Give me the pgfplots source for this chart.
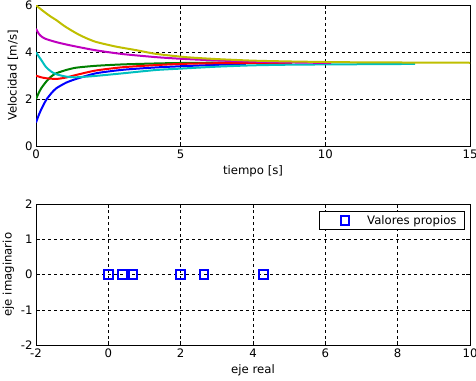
\documentclass[border=0pt]{standalone}
\usepackage{pgfplots}
\pgfplotsset{compat=1.18}
\usepackage{fontspec}
\setmainfont{DejaVu Sans}
\definecolor{mblue}{rgb}{0,0,1}
\definecolor{mgreen}{rgb}{0,0.5,0}
\definecolor{mred}{rgb}{1,0,0}
\definecolor{mcyan}{rgb}{0,0.75,0.75}
\definecolor{mmag}{rgb}{0.75,0,0.75}
\definecolor{myel}{rgb}{0.75,0.75,0}
\pgfplotsset{
  mstyle/.style={
    scale only axis, width=434bp, height=140.7bp, anchor=south west,
    grid=major,
    major grid style={black, dash pattern=on 3bp off 3bp, line width=0.6bp},
    tick align=inside, xtick pos=both, ytick pos=both,
    major tick length=4bp,
    tick style={black, line width=0.6bp},
    axis line style={black, line width=0.6bp},
    /pgf/number format/assume math mode=true,
    tick label style={font=\fontsize{11.7bp}{14bp}\selectfont},
    label style={font=\fontsize{11.7bp}{14bp}\selectfont},
    every axis plot/.append style={line width=2bp},
  },
  mylegimg/.style={legend image code/.code={\draw[##1, only marks] plot coordinates {(20bp,0bp)}; \path[draw=none] (0bp,0bp) -- (40bp,0bp);}},
}
\begin{document}
\begin{tikzpicture}
\path[use as bounding box] (0bp,0bp) rectangle (476bp,381bp);
\begin{axis}[mstyle, at={(36bp,235bp)},
  xmin=0, xmax=15, ymin=0, ymax=6,
  xtick={0,5,10,15}, ytick={0,2,4,6},
  xlabel={tiempo [s]}, ylabel={Velocidad [m/s]}]
\addplot[mblue, smooth, tension=0.4] coordinates {(0,1.0)(0.09,1.3)(0.18,1.56)(0.35,1.96)(0.53,2.25)(0.70,2.46)(1.04,2.70)(1.39,2.86)(2.07,3.10)(3.0,3.25)(4.14,3.35)(5.0,3.40)(6.2,3.46)(7.26,3.50)};
\addplot[mgreen, smooth, tension=0.4] coordinates {(0,2.0)(0.09,2.25)(0.18,2.46)(0.35,2.74)(0.53,2.97)(0.70,3.10)(1.04,3.24)(1.39,3.34)(2.07,3.42)(3.0,3.48)(4.14,3.52)(5.0,3.54)(6.8,3.56)};
\addplot[mred, smooth, tension=0.4] coordinates {(0,3.0)(0.18,2.93)(0.35,2.89)(0.70,2.86)(1.04,2.92)(1.39,3.03)(2.07,3.22)(3.0,3.36)(4.14,3.45)(5.0,3.50)(6.2,3.53)(8.85,3.55)};
\addplot[mcyan, smooth, tension=0.4] coordinates {(0,4.0)(0.09,3.83)(0.18,3.67)(0.35,3.36)(0.53,3.17)(0.70,3.06)(1.04,2.96)(1.39,2.93)(2.07,2.99)(3.0,3.10)(4.14,3.24)(5.0,3.30)(6.2,3.38)(7.5,3.44)(9.0,3.47)(13.1,3.50)};
\addplot[mmag, smooth, tension=0.4] coordinates {(0,5.0)(0.1,4.78)(0.2,4.66)(0.35,4.56)(0.70,4.43)(1.04,4.33)(1.39,4.24)(2.07,4.08)(3.0,3.92)(4.14,3.79)(5.0,3.72)(6.2,3.65)(8.0,3.58)(10.2,3.54)};
\addplot[myel, smooth, tension=0.4] coordinates {(0,6.0)(0.17,5.83)(0.35,5.66)(0.52,5.51)(0.70,5.37)(1.0,5.10)(1.39,4.81)(1.7,4.62)(2.07,4.44)(2.76,4.24)(3.45,4.09)(4.14,3.93)(5.17,3.79)(6.2,3.71)(7.5,3.64)(9.0,3.60)(11.0,3.57)(15.0,3.55)};
\end{axis}
\begin{axis}[mstyle, at={(36bp,36bp)},
  xmin=-2, xmax=10, ymin=-2, ymax=2,
  xtick={-2,0,2,4,6,8,10}, ytick={-2,-1,0,1,2},
  xlabel={eje real}, ylabel={eje imaginario},
  legend style={at={(0.988,0.952)}, anchor=north east, draw=black, line width=0.6bp,
    font=\fontsize{11.7bp}{14bp}\selectfont, inner xsep=6bp, inner ysep=2bp}]
\addplot[only marks, mylegimg, mark=square, mark size=4.2bp, mblue, mark options={line width=2bp, solid}]
  coordinates {(0,0)(0.39,0)(0.69,0)(2,0)(2.64,0)(4.29,0)};
\addlegendentry{Valores propios}
\end{axis}
\end{tikzpicture}
\end{document}
